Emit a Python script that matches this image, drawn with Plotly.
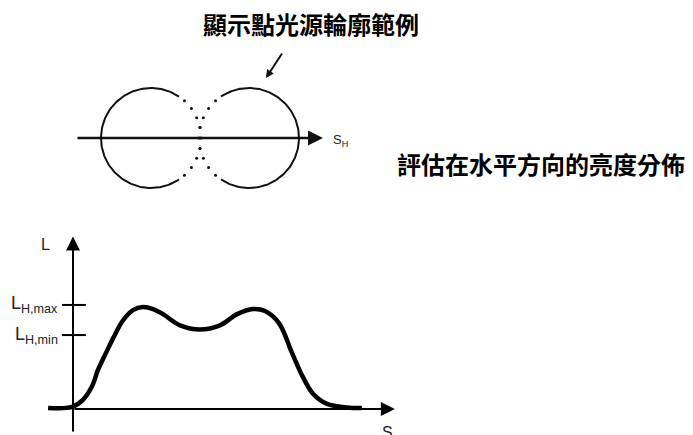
import numpy as np
import plotly.graph_objects as go

# luminance profile along s (lower chart, data units)
s_vals = [-0.83, -0.03, 0.33, 0.63, 0.83, 1.1, 1.33, 1.67, 2.0, 2.33, 2.67, 3.0,
          3.57, 4.23, 4.9, 5.47, 6.0, 6.4, 6.87, 7.3, 7.67, 8.0, 8.47, 9.13, 9.63]
L_vals = [0.01, 0.02, 0.09, 0.22, 0.38, 0.55, 0.69, 0.87, 0.97, 1.0, 0.98, 0.93,
          0.82, 0.78, 0.82, 0.93, 0.98, 0.96, 0.84, 0.55, 0.31, 0.15, 0.05, 0.015, 0.01]
L_H_max = 1.02
L_H_min = 0.725
tick_labels = ["L<sub>H,max</sub>", "L<sub>H,min</sub>"]

title_top = "顯示點光源輪廓範例"
title_right = "評估在水平方向的亮度分佈"

CJK = "Noto Sans CJK TC"
SANS = "Liberation Sans, Arial, sans-serif"

fig = go.Figure()

# ---- upper sketch: two overlapping point-source profiles (pixel-like axes x/y)
r = 50
cy = 138
centres = [151, 249]
solid_spans = [(56, 304), (-124, 124)]
dot_angles = [np.arange(-48, 49, 12), 180 + np.arange(-48, 49, 12)]
for cx, (a0, a1), dots in zip(centres, solid_spans, dot_angles):
    t = np.radians(np.linspace(a0, a1, 200))
    fig.add_trace(go.Scatter(x=cx + r * np.cos(t), y=cy - r * np.sin(t), mode="lines",
                             line=dict(color="#111", width=2), hoverinfo="skip"))
    td = np.radians(dots)
    fig.add_trace(go.Scatter(x=cx + r * np.cos(td), y=cy - r * np.sin(td), mode="markers",
                             marker=dict(color="#111", size=3), hoverinfo="skip"))

# ---- lower chart: luminance curve (data axes x2/y2)
fig.add_trace(go.Scatter(x=s_vals, y=L_vals, mode="lines", line=dict(color="black", width=4.5, shape="spline"),
                         xaxis="x2", yaxis="y2", hoverinfo="skip"))
for v in [L_H_max, L_H_min]:
    fig.add_trace(go.Scatter(x=[-0.37, 0.43], y=[v, v], mode="lines", line=dict(color="black", width=2),
                             xaxis="x2", yaxis="y2", hoverinfo="skip"))

ann = []
# axis arrows
ann.append(dict(x=10.73, y=0, ax=0, ay=0, xref="x2", yref="y2", axref="x2", ayref="y2", text="",
                showarrow=True, arrowhead=2, arrowsize=1.4, arrowwidth=2, arrowcolor="black", standoff=0))
ann.append(dict(x=0, y=1.69, ax=0, ay=-0.235, xref="x2", yref="y2", axref="x2", ayref="y2", text="",
                showarrow=True, arrowhead=2, arrowsize=1.4, arrowwidth=2, arrowcolor="black", standoff=0))
ann.append(dict(x=323, y=138, ax=76, ay=138, xref="x", yref="y", axref="x", ayref="y", text="",
                showarrow=True, arrowhead=2, arrowsize=1.2, arrowwidth=2.5, arrowcolor="#111", standoff=0))
ann.append(dict(x=266, y=78, ax=283, ay=52, xref="x", yref="y", axref="x", ayref="y", text="",
                showarrow=True, arrowhead=2, arrowsize=0.8, arrowwidth=2, arrowcolor="#111", standoff=0))

# text
ann.append(dict(x=311, y=23, xref="x", yref="y", text="<b>" + title_top + "</b>", showarrow=False,
                font=dict(family=CJK, size=24, color="black")))
ann.append(dict(x=541, y=163, xref="x", yref="y", text="<b>" + title_right + "</b>", showarrow=False,
                font=dict(family=CJK, size=24, color="black")))
ann.append(dict(x=331, y=140, xref="x", yref="y", text="S<sub>H</sub>", showarrow=False, xanchor="left",
                font=dict(family=SANS, size=13, color="#222")))
ann.append(dict(x=45, y=244, xref="x", yref="y", text="L", showarrow=False,
                font=dict(family=SANS, size=16, color="#222")))
ann.append(dict(x=387, y=422, xref="x", yref="y", text="S", showarrow=False, yanchor="top",
                font=dict(family=SANS, size=16, color="#222")))
for lab, v in zip(tick_labels, [L_H_max, L_H_min]):
    ann.append(dict(x=-0.43, y=v, xref="x2", yref="y2", text=lab, showarrow=False, xanchor="right",
                    yanchor="middle", font=dict(family=SANS, size=18, color="#222")))

hidden = dict(visible=False, showgrid=False, zeroline=False, fixedrange=True)
fig.update_layout(
    width=693, height=435,
    margin=dict(l=0, r=0, t=0, b=0),
    paper_bgcolor="white", plot_bgcolor="white",
    showlegend=False,
    annotations=ann,
    xaxis=dict(range=[0, 693], domain=[0, 1], **hidden),
    yaxis=dict(range=[435, 0], domain=[0, 1], **hidden),
    xaxis2=dict(range=[-73 / 30, 620 / 30], overlaying="x", anchor="y2", **hidden),
    yaxis2=dict(range=[-26 / 102, 409 / 102], overlaying="y", anchor="x2", **hidden),
)

fig.write_html("out.html", config={"displayModeBar": False},
               post_script="document.body.style.margin='0';")
